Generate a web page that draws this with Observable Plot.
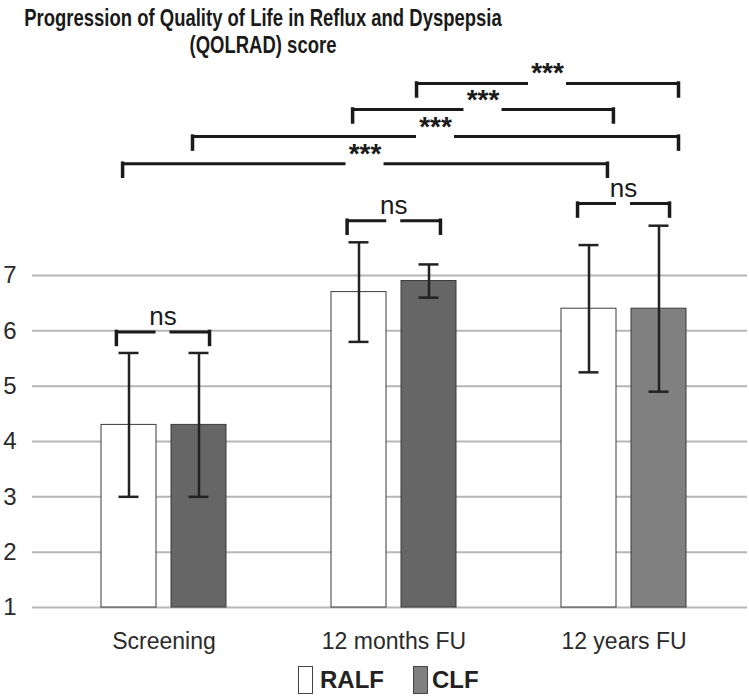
<!DOCTYPE html>
<html>
<head>
<meta charset="utf-8">
<script src="https://cdn.jsdelivr.net/npm/d3@7"></script>
<script src="https://cdn.jsdelivr.net/npm/@observablehq/plot@0.6"></script>
<style>
  html, body { margin: 0; padding: 0; background: #fff; }
  #wrap { width: 749px; height: 696px; position: relative; overflow: hidden; }
  #title { width: 525px; height: 54px; padding-top: 4px; text-align: center;
    font-family: "Liberation Sans", Arial, sans-serif;
    font-weight: bold; font-size: 24px; line-height: 27px; color: #1a1a1a; }
  #title div { width: 700px; margin-left: -87.5px; white-space: nowrap;
    transform: scaleX(0.77); transform-origin: 350px 0; }
  #chart { height: 600px; }
  #legend { position: relative; height: 38px; font-family: "Liberation Sans", Arial, sans-serif;
    font-weight: bold; font-size: 24px; color: #222; }
  .sw { position: absolute; top: 8px; width: 13px; height: 26px; border: 1px solid #444; }
  .lb { position: absolute; top: 8px; line-height: 28px; }
</style>
</head>
<body>
<div id="wrap">
  <div id="title"><div>Progression of Quality of Life in Reflux and Dyspepsia</div><div>(QOLRAD) score</div></div>
  <div id="chart"></div>
  <div id="legend"></div>
</div>
<script>
// ---- data ----
const categories = ["Screening", "12 months FU", "12 years FU"];
const series = ["RALF", "CLF"];
const ralfMean = [4.3, 6.7, 6.4];
const ralfLow  = [3.0, 5.8, 5.25];
const ralfHigh = [5.6, 7.6, 7.55];
const clfMean  = [4.3, 6.9, 6.4];
const clfLow   = [3.0, 6.6, 4.9];
const clfHigh  = [5.6, 7.2, 7.9];
const yTicks = [1, 2, 3, 4, 5, 6, 7];
// significance brackets (x in category-index units, level in score units)
const bracketFrom  = [1.098, 0.820, 0.124, -0.180, 1.798, 0.796, -0.207];
const bracketTo    = [2.237, 1.954, 2.237, 1.928, 2.198, 1.202, 0.198];
const bracketLevel = [10.47, 10.00, 9.51, 9.02, 8.30, 7.99, 5.98];
const bracketLabel = ["***", "***", "***", "***", "ns", "ns", "ns"];

// ---- styles / layout constants ----
const seriesOffset = 35 / 230, barHalf = 27.5 / 230, capHalf = 10 / 230;
const legLen = 13 / 55.33;
const fillFor = (s, i) => s === "RALF" ? "#ffffff" : (i === 2 ? "#808080" : "#666666");

const bars = categories.flatMap((c, i) => series.map((s, j) => ({
  i, s,
  mean: j ? clfMean[i] : ralfMean[i],
  lo: j ? clfLow[i] : ralfLow[i],
  hi: j ? clfHigh[i] : ralfHigh[i],
  cx: i + (j ? 1 : -1) * seriesOffset,
  fill: fillFor(s, i)
})));

const brackets = bracketFrom.map((f, k) => ({
  from: f, to: bracketTo[k], level: bracketLevel[k], label: bracketLabel[k],
  c: (f + bracketTo[k]) / 2, gap: (bracketLabel[k] === "ns" ? 7 : 19) / 230
}));
const segs = brackets.flatMap(b => [
  {x1: b.from, x2: b.c - b.gap, y: b.level},
  {x1: b.c + b.gap, x2: b.to, y: b.level}
]);
const legs = brackets.flatMap(b => [{x: b.from, y: b.level}, {x: b.to, y: b.level}]);

const plot = Plot.plot({
  width: 749, height: 600,
  marginLeft: 32, marginRight: 2, marginTop: 0, marginBottom: 51,
  x: {domain: [-0.5, 2.5], range: [48.5, 738.5], axis: null},
  y: {domain: [1, 7], range: [549, 217], axis: null},
  color: {type: "identity"},
  style: {fontFamily: "'Liberation Sans', Arial, sans-serif", background: "white", color: "#2a2a2a", overflow: "visible"},
  marks: [
    Plot.ruleY(yTicks, {stroke: "#b6b6b6", strokeWidth: 2}),
    Plot.rectY(bars, {x1: d => d.cx - barHalf, x2: d => d.cx + barHalf, y1: 1, y2: "mean",
      fill: "fill", stroke: "#3a3a3a", strokeWidth: 1}),
    Plot.ruleX(bars, {x: "cx", y1: "lo", y2: "hi", stroke: "#222", strokeWidth: 2.5}),
    Plot.ruleY(bars, {y: "hi", x1: d => d.cx - capHalf, x2: d => d.cx + capHalf, stroke: "#222", strokeWidth: 2.5}),
    Plot.ruleY(bars, {y: "lo", x1: d => d.cx - capHalf, x2: d => d.cx + capHalf, stroke: "#222", strokeWidth: 2.5}),
    Plot.ruleY(segs, {x1: "x1", x2: "x2", y: "y", stroke: "#1a1a1a", strokeWidth: 3}),
    Plot.ruleX(legs, {x: "x", y1: "y", y2: d => d.y - legLen, stroke: "#1a1a1a", strokeWidth: 3.5, strokeLinecap: "square"}),
    Plot.text(brackets.filter(b => b.label === "***"), {x: "c", y: "level", text: "label",
      lineAnchor: "bottom", dy: -1, fontSize: 28, fontWeight: "bold", fill: "#1a1a1a"}),
    Plot.text(brackets.filter(b => b.label === "ns"), {x: "c", y: "level", text: "label",
      lineAnchor: "bottom", dy: -7, fontSize: 26, fill: "#1a1a1a"}),
    Plot.axisY(yTicks, {tickSize: 0, tickPadding: 16, fontSize: 24, fill: "#2a2a2a",
      tickFormat: d => String(d)}),
    Plot.axisX([0, 1, 2], {tickSize: 0, tickPadding: 25, fontSize: 23, fill: "#2a2a2a",
      tickFormat: i => categories[i]})
  ]
});
document.getElementById("chart").appendChild(plot);

// legend
const legend = document.getElementById("legend");
const legendItems = [
  {s: "RALF", sw: 298, lb: 320, fill: "#ffffff"},
  {s: "CLF", sw: 413, lb: 432, fill: "#808080"}
];
legendItems.forEach(it => {
  const sw = document.createElement("div");
  sw.className = "sw"; sw.style.left = it.sw + "px"; sw.style.background = it.fill;
  legend.appendChild(sw);
  const lb = document.createElement("div");
  lb.className = "lb"; lb.style.left = it.lb + "px"; lb.textContent = it.s;
  legend.appendChild(lb);
});
</script>
</body>
</html>
